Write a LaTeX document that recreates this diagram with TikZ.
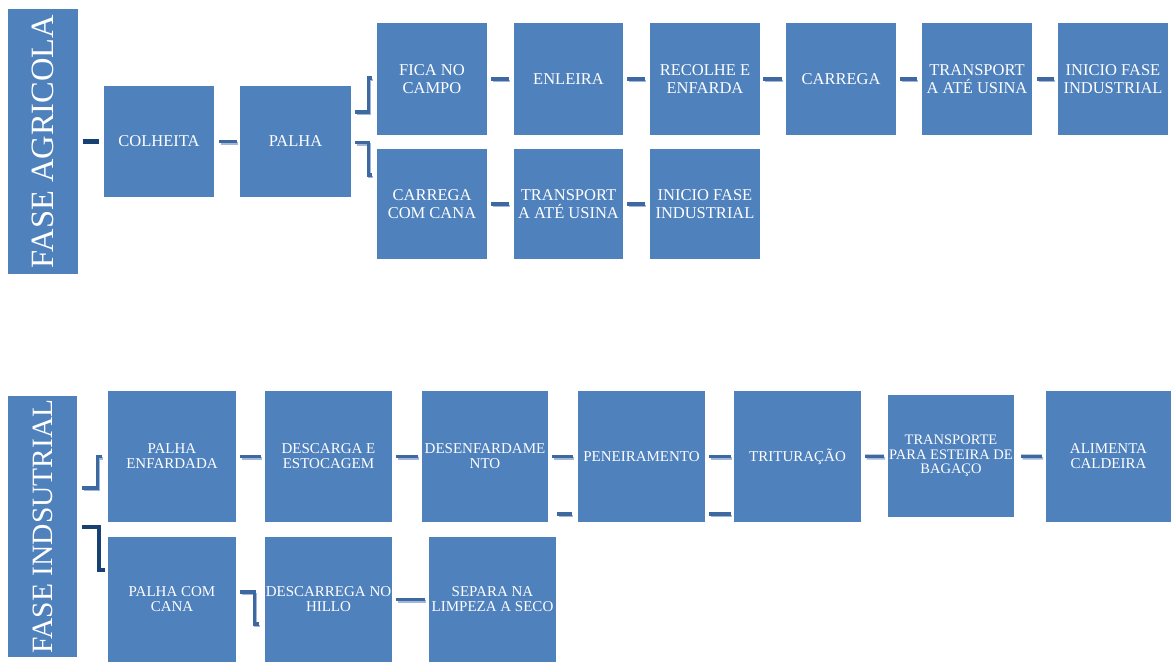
\documentclass[tikz,border=0pt]{standalone}
\usepackage{fontspec}
\setmainfont{Liberation Serif}
\usetikzlibrary{calc}
\definecolor{boxblue}{RGB}{79,129,189}
\definecolor{linkmid}{RGB}{62,104,160}
\definecolor{linklight}{RGB}{160,183,218}
\definecolor{linkdark}{RGB}{23,65,115}
\begin{document}
\begin{tikzpicture}[x=1pt,y=-1pt,
  box/.style={fill=boxblue, draw=none, text=white, inner sep=0pt, align=center},
  topbox/.style={box, minimum width=110pt, minimum height=112pt, font=\fontsize{16.5}{17.5}\selectfont},
  lowbox/.style={box, minimum width=127pt, minimum height=131pt, font=\fontsize{15}{15}\selectfont},
  phase/.style={box, minimum width=70pt},
  phasetext/.style={rotate=90, text=white, inner sep=0pt},
  link/.style={line width=3.4pt, draw=linkmid,
    preaction={draw=linklight, line width=2.6pt, transform canvas={shift={(1.3pt,-2pt)}}}},
  linkdk/.style={line width=4.5pt, draw=linkdark},
  gap/.style={shorten <=#1, shorten >=#1},
]
\useasboundingbox (0,0) rectangle (1171,662);

% ---------------- agricultural phase ----------------
\node[phase, minimum height=265pt] (lblA) at (43,141.5) {};
\node[phasetext, font=\fontsize{32.5}{34}\selectfont] (lblAtext) at (lblA.center) {FASE AGRICOLA};

\node[topbox, minimum height=111pt] (colheita) at (159,141.5) {COLHEITA};
\node[topbox, minimum width=111pt, minimum height=111pt] (palha) at (295.5,141.5) {PALHA};

\node[topbox] (fica)    at (432,79)   {FICA NO\\CAMPO};
\node[topbox, minimum width=109pt] (enleira) at (568.5,79) {ENLEIRA};
\node[topbox] (recolhe) at (705,79)   {RECOLHE E\\ENFARDA};
\node[topbox] (carrega) at (841,79)   {CARREGA};
\node[topbox] (transpA) at (977,79)   {TRANSPORT\\A ATÉ USINA};
\node[topbox] (inicioA) at (1113,79)  {INICIO FASE\\INDUSTRIAL};

\node[topbox, minimum height=110pt] (carcana) at (432,204)  {CARREGA\\COM CANA};
\node[topbox, minimum width=109pt, minimum height=110pt] (transpB) at (568.5,204) {TRANSPORT\\A ATÉ USINA};
\node[topbox, minimum height=110pt] (inicioB) at (705,204)  {INICIO FASE\\INDUSTRIAL};

\draw[linkdk, gap=5pt] (lblA) -- (colheita);
\draw[link, shorten <=5pt, shorten >=3pt] (colheita) -- (palha);
\draw[link] ($(palha.east)+(4,-29.5)$) -- ++(13,0) |- ($(fica.west)+(-5,-1)$);
\draw[link] ($(palha.east)+(4,1)$) -- ++(13,0) |- ($(carcana.west)+(-5,-29)$);
\draw[link, shorten <=4pt, shorten >=5pt] (fica) -- (enleira);
\draw[link, shorten <=4pt, shorten >=5pt] (enleira) -- (recolhe);
\draw[link, shorten <=3pt, shorten >=4pt] (recolhe) -- (carrega);
\draw[link, shorten <=4pt, shorten >=5pt] (carrega) -- (transpA);
\draw[link, shorten <=5pt, shorten >=4pt] (transpA) -- (inicioA);
\draw[link, shorten <=4pt, shorten >=5pt] (carcana) -- (transpB);
\draw[link, shorten <=4pt, shorten >=5pt] (transpB) -- (inicioB);

% ---------------- industrial phase ----------------
\node[phase, minimum width=69pt, minimum height=261pt] (lblI) at (42.5,526.5) {};
\node[phasetext, font=\fontsize{29.5}{31}\selectfont] (lblItext) at (lblI.center) {FASE INDSUTRIAL};

\node[lowbox, minimum width=128pt] (palhaenf) at (172,456.5)   {PALHA\\ENFARDADA};
\node[lowbox] (descarga) at (328.5,456.5) {DESCARGA E\\ESTOCAGEM};
\node[lowbox, minimum width=126pt] (desenf) at (485,456.5) {DESENFARDAME\\NTO};
\node[lowbox] (peneira)  at (641.5,456.5) {PENEIRAMENTO};
\node[lowbox] (tritura)  at (797.5,456.5) {TRITURAÇÃO};
\node[lowbox, minimum width=126pt, minimum height=122pt, font=\fontsize{14.5}{14.5}\selectfont] (esteira) at (951,456) {TRANSPORTE\\PARA ESTEIRA DE\\BAGAÇO};
\node[lowbox, minimum width=125pt] (alimenta) at (1108.5,456.5) {ALIMENTA\\CALDEIRA};

\node[lowbox, minimum width=128pt, minimum height=125pt] (palhacana)  at (172,599.5)   {PALHA COM\\CANA};
\node[lowbox, minimum height=125pt] (descarrega) at (328.5,599.5) {DESCARREGA NO\\HILLO};
\node[lowbox, minimum height=125pt] (separa)     at (492.5,599.5) {SEPARA NA\\LIMPEZA A SECO};

\draw[link] ($(lblI.east)+(5,-38.5)$) -- ++(15,0) |- ($(palhaenf.west)+(-6,0)$);
\draw[linkdk] ($(lblI.east)+(5,0.5)$) -- ++(17,0) |- ($(palhacana.west)+(-3,-29.5)$);
\draw[link, shorten <=4pt, shorten >=4pt] (palhaenf) -- (descarga);
\draw[link, shorten <=4pt, shorten >=4pt] (descarga) -- (desenf);
\draw[link, shorten <=4pt, shorten >=5pt] (desenf) -- (peneira);
\draw[link, shorten <=9pt, shorten >=6pt] ($(desenf.east)+(0,57.5)$) -- ($(peneira.west)+(0,57.5)$);
\draw[link, shorten <=4pt, shorten >=3pt] (peneira) -- (tritura);
\draw[link, shorten <=4pt, shorten >=3pt] ($(peneira.east)+(0,57.5)$) -- ($(tritura.west)+(0,57.5)$);
\draw[link, shorten <=4pt, shorten >=4pt] (tritura) -- (esteira);
\draw[link, shorten <=7pt, shorten >=4pt] (esteira) -- (alimenta);
\draw[link] ($(palhacana.east)+(4,-7.5)$) -- ++(14,0) |- ($(descarrega.west)+(-6,24.5)$);
\draw[link, shorten <=4pt, shorten >=4pt] (descarrega) -- (separa);
\end{tikzpicture}
\end{document}
